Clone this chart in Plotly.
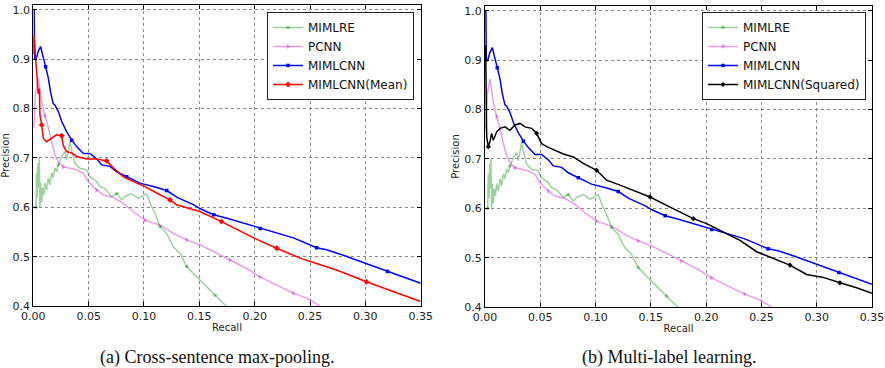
import plotly.graph_objects as go

# ---- data ----
mimlre_recall = [0.0024, 0.003, 0.0036, 0.0042, 0.0048, 0.0054, 0.006, 0.0066, 0.0075, 0.0084,
                 0.0095, 0.0105, 0.012, 0.0136, 0.015, 0.0166, 0.018, 0.0196, 0.021, 0.0226,
                 0.0256, 0.0286, 0.0301, 0.0331, 0.0346, 0.0377, 0.0422, 0.0482, 0.0512, 0.0572,
                 0.0602, 0.0648, 0.0708, 0.0753, 0.0798, 0.0828, 0.0889, 0.0949, 0.1024, 0.1069,
                 0.1099, 0.1145, 0.1205, 0.1265, 0.1325, 0.1386, 0.1476, 0.1566, 0.1642, 0.1732, 0.176]
mimlre_prec = [0.60, 0.67, 0.62, 0.69, 0.64, 0.70, 0.60, 0.65, 0.61, 0.64,
               0.625, 0.65, 0.635, 0.66, 0.645, 0.67, 0.66, 0.68, 0.672, 0.686,
               0.703, 0.713, 0.696, 0.733, 0.716, 0.689, 0.679, 0.676, 0.662, 0.652,
               0.642, 0.638, 0.622, 0.628, 0.615, 0.622, 0.628, 0.618, 0.628, 0.601,
               0.588, 0.561, 0.547, 0.520, 0.507, 0.480, 0.459, 0.439, 0.422, 0.402, 0.398]
mimlre_marks = [0, 19, 33, 41, 45, 48]

pcnn_recall = [0.0005, 0.002, 0.0045, 0.0075, 0.0105, 0.0136, 0.0166, 0.0196, 0.0226, 0.0271,
               0.0331, 0.0392, 0.0452, 0.0497, 0.0572, 0.0633, 0.0723, 0.0813, 0.0904, 0.1009,
               0.1145, 0.1265, 0.1386, 0.1506, 0.1657, 0.1777, 0.1928, 0.2048, 0.2199, 0.2349,
               0.247, 0.259]
pcnn_prec = [0.76, 0.83, 0.862, 0.815, 0.786, 0.762, 0.732, 0.706, 0.692, 0.682,
             0.679, 0.676, 0.669, 0.652, 0.635, 0.625, 0.620, 0.608, 0.591, 0.574,
             0.564, 0.547, 0.534, 0.524, 0.507, 0.493, 0.476, 0.459, 0.443, 0.426,
             0.416, 0.400]
pcnn_marks = [4, 9, 14, 19, 22, 25, 27, 29]

cnn_recall = [0.0, 0.0008, 0.0012, 0.0024, 0.0045, 0.0066, 0.0084, 0.0096, 0.0111, 0.0136,
              0.0157, 0.0180, 0.0196, 0.0226, 0.0257, 0.0302, 0.0347, 0.0392, 0.0452, 0.0512,
              0.0573, 0.0618, 0.0693, 0.0753, 0.0844, 0.0964, 0.1084, 0.1205, 0.130, 0.145,
              0.151, 0.163, 0.175, 0.190, 0.205, 0.220, 0.235, 0.256, 0.265, 0.280,
              0.300, 0.320, 0.335, 0.350]
cnn_prec = [1.0, 1.0, 0.90, 0.899, 0.916, 0.926, 0.909, 0.90, 0.885, 0.862,
            0.832, 0.81, 0.807, 0.794, 0.774, 0.753, 0.736, 0.723, 0.709, 0.709,
            0.698, 0.686, 0.683, 0.672, 0.662, 0.649, 0.642, 0.634, 0.62, 0.605,
            0.597, 0.585, 0.578, 0.568, 0.557, 0.547, 0.538, 0.518, 0.514, 0.503,
            0.487, 0.470, 0.458, 0.446]
cnn_marks = [8, 16, 24, 27, 31, 34, 37, 41]

mean_recall = [0.0, 0.0006, 0.0015, 0.003, 0.0045, 0.0055, 0.006, 0.0076, 0.009, 0.012,
               0.0166, 0.021, 0.0257, 0.027, 0.030, 0.0347, 0.0392, 0.0483, 0.0573, 0.0663,
               0.0723, 0.0813, 0.0904, 0.101, 0.1115, 0.1235, 0.1295, 0.151, 0.170, 0.187,
               0.200, 0.220, 0.241, 0.256, 0.274, 0.301, 0.322, 0.35]
mean_prec = [0.91, 0.95, 0.92, 0.865, 0.83, 0.84, 0.787, 0.767, 0.74, 0.733,
             0.74, 0.747, 0.745, 0.726, 0.713, 0.71, 0.703, 0.698, 0.698, 0.694,
             0.68, 0.662, 0.652, 0.642, 0.629, 0.615, 0.605, 0.591, 0.571, 0.551,
             0.537, 0.517, 0.497, 0.486, 0.473, 0.449, 0.432, 0.409]
mean_marks = [7, 12, 19, 25, 28, 31, 35]

sq_recall = [0.0006, 0.0008, 0.0015, 0.003, 0.0045, 0.006, 0.0075, 0.0106, 0.0136, 0.0181,
             0.0226, 0.0271, 0.0317, 0.0362, 0.0422, 0.0467, 0.0512, 0.0558, 0.0633, 0.0708,
             0.0799, 0.0889, 0.101, 0.11, 0.1221, 0.1372, 0.1492, 0.1643, 0.1764, 0.1884,
             0.2005, 0.2155, 0.2306, 0.2457, 0.2608, 0.2758, 0.2909, 0.306, 0.321, 0.3361, 0.35]
sq_prec = [0.93, 0.80, 0.745, 0.725, 0.735, 0.752, 0.738, 0.755, 0.762, 0.765,
           0.758, 0.769, 0.772, 0.765, 0.762, 0.752, 0.731, 0.725, 0.718, 0.710,
           0.704, 0.691, 0.677, 0.657, 0.647, 0.633, 0.623, 0.606, 0.593, 0.579,
           0.569, 0.552, 0.535, 0.512, 0.498, 0.485, 0.466, 0.460, 0.449, 0.439, 0.428]
sq_marks = [3, 15, 22, 26, 29, 35, 38]

x_ticks = [0.0, 0.05, 0.10, 0.15, 0.20, 0.25, 0.30, 0.35]
y_ticks = [0.4, 0.5, 0.6, 0.7, 0.8, 0.9, 1.0]
captions = ["(a) Cross-sentence max-pooling.", "(b) Multi-label learning."]

# ---- figure ----
W, H = 885, 368
FONT = "DejaVu Sans"

fig = go.Figure()

def add(name, xs, ys, marks, color, symbol, xa, ya, legend, msize=4):
    fig.add_trace(go.Scatter(
        x=xs, y=ys, name=name, mode="lines+markers",
        xaxis=xa, yaxis=ya, legend=legend,
        line=dict(color=color, width=1.5),
        marker=dict(color=color, symbol=symbol, size=msize, line=dict(width=0)),
        selectedpoints=marks,
        selected=dict(marker=dict(opacity=1)),
        unselected=dict(marker=dict(opacity=0)),
    ))

green = "rgba(0,128,0,0.38)"
purple = "rgba(191,0,191,0.38)"

for xa, ya, lg, last in [("x", "y", "legend", "mean"), ("x2", "y2", "legend2", "sq")]:
    add("MIMLRE", mimlre_recall, mimlre_prec, mimlre_marks, green, "circle", xa, ya, lg, 3.5)
    add("PCNN", pcnn_recall, pcnn_prec, pcnn_marks, purple, "triangle-right", xa, ya, lg, 4.5)
    add("MIMLCNN", cnn_recall, cnn_prec, cnn_marks, "#0000ff", "square", xa, ya, lg, 3.5)
    if last == "mean":
        add("MIMLCNN(Mean)", mean_recall, mean_prec, mean_marks, "#ff0000", "diamond", xa, ya, lg, 4.5)
    else:
        add("MIMLCNN(Squared)", sq_recall, sq_prec, sq_marks, "#000000", "diamond", xa, ya, lg, 4)

def px_x(p):
    return p / W

def px_y(p):
    return 1 - p / H

axis_common = dict(
    showline=True, linecolor="black", linewidth=1, mirror="ticks",
    ticks="inside", ticklen=4, tickcolor="black",
    showgrid=True, gridcolor="#888888", gridwidth=1, griddash="dot",
    zeroline=False, automargin=False,
    tickfont=dict(family=FONT, size=11, color="#222222"),
)

xdoms = [(33.3, 420.7), (485.0, 872.0)]
ydoms = [(306.0, 5.0), (307.0, 6.0)]

layout = dict(
    width=W, height=H, margin=dict(l=0, r=0, t=0, b=0, autoexpand=False),
    paper_bgcolor="white", plot_bgcolor="white",
    font=dict(family=FONT, color="#222222"),
    showlegend=True,
)
for i in range(2):
    sfx = "" if i == 0 else "2"
    layout["xaxis" + sfx] = dict(
        axis_common, domain=[px_x(xdoms[i][0]), px_x(xdoms[i][1])],
        range=[0, 0.35], tickvals=x_ticks, tickformat=".2f",
        anchor="y" + sfx,
        title=dict(text="Recall", font=dict(family=FONT, size=10, color="#222222"), standoff=1),
    )
    layout["yaxis" + sfx] = dict(
        axis_common, domain=[px_y(ydoms[i][0]), px_y(ydoms[i][1])],
        range=[0.4, 1.01], tickvals=y_ticks, tickformat=".1f",
        anchor="x" + sfx,
        title=dict(text="Precision", font=dict(family=FONT, size=10, color="#222222"), standoff=2),
    )

leg_common = dict(
    bgcolor="white", bordercolor="#222222", borderwidth=1,
    font=dict(family=FONT, size=12, color="#111111"),
    xanchor="right", yanchor="top", tracegroupgap=0,
)
layout["legend"] = dict(leg_common, x=px_x(414), y=px_y(12))
layout["legend2"] = dict(leg_common, x=px_x(866), y=px_y(12))

fig.update_layout(**layout)

for cx, txt in zip([217, 669], captions):
    fig.add_annotation(
        x=px_x(cx), y=px_y(357), xref="paper", yref="paper",
        text=txt, showarrow=False, xanchor="center", yanchor="middle",
        font=dict(family="Liberation Serif", size=18, color="#111111"),
    )

fig.write_html("out.html")
